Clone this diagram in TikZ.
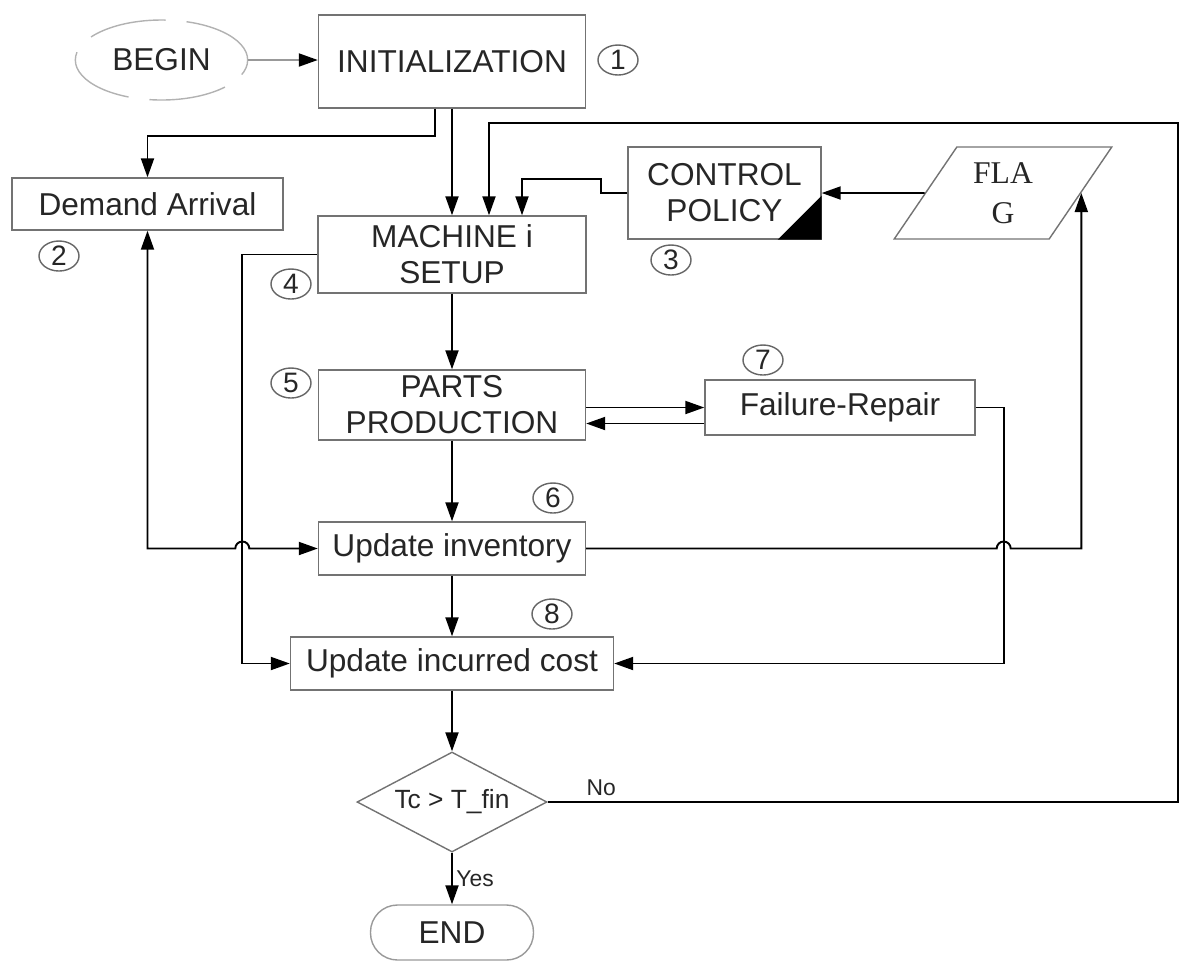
\documentclass[tikz,border=0pt]{standalone}
\usepackage{fontspec}
\setmainfont{Liberation Sans}
\newfontfamily\flagfont{Liberation Serif}
\usetikzlibrary{arrows.meta, calc, shapes.geometric}

\begin{document}
\begin{tikzpicture}[>={Triangle[length=1.9mm, width=1.3mm]}, line width=0.55pt, every node/.style={font=\fontsize{9}{10.2}\selectfont, text=black!85}, box/.style={draw=black!55, line width=0.4pt, align=center, inner sep=0pt}, num/.style={ellipse, draw=black!60, line width=0.4pt, minimum width=0.40cm, minimum height=0.30cm, inner sep=0pt, font=\fontsize{8}{9}\selectfont}]
  \useasboundingbox (0,0) rectangle (11.83,-9.66);
  \node[ellipse, draw=black!30, line width=0.4pt, dash pattern=on 22pt off 6pt, minimum width=1.63cm, minimum height=0.80cm] (start) at (1.615,-0.60) {BEGIN};
  \node[box, minimum width=2.67cm, minimum height=0.93cm] (init) at (4.52,-0.615) {INITIALIZATION};
  \node[box, minimum width=2.71cm, minimum height=0.52cm] (demand) at (1.475,-2.04) {Demand Arrival};
  \node[box, minimum width=2.68cm, minimum height=0.77cm] (setup) at (4.52,-2.545) {MACHINE i\\SETUP};
  \node[box, minimum width=1.93cm, minimum height=0.92cm] (control) at (7.245,-1.93) {CONTROL\\POLICY};
  \node[trapezium, trapezium left angle=56.5, trapezium right angle=123.5, trapezium stretches=true, draw=black!55, line width=0.4pt, minimum width=2.18cm, minimum height=0.92cm, inner sep=0pt, align=center, font=\flagfont\fontsize{9}{11.4}\selectfont] (flag) at (10.03,-1.93) {FLA\\G};
  \node[box, minimum width=2.67cm, minimum height=0.70cm] (pp) at (4.52,-4.05) {PARTS\\PRODUCTION};
  \node[box, minimum width=2.70cm, minimum height=0.55cm] (fail) at (8.40,-4.075) {Failure-Repair};
  \node[box, minimum width=2.67cm, minimum height=0.53cm] (inv) at (4.52,-5.485) {Update inventory};
  \node[box, minimum width=3.23cm, minimum height=0.53cm] (cost) at (4.52,-6.635) {Update incurred cost};
  \node[diamond, draw=black!55, line width=0.4pt, shape aspect=1.9, minimum width=1.90cm, minimum height=1.00cm, inner sep=0pt, font=\fontsize{7.5}{9}\selectfont] (test) at (4.52,-8.02) {Tc > T\_fin};
  \node[draw=black!40, line width=0.4pt, rounded corners=0.27cm, minimum width=1.63cm, minimum height=0.55cm] (finish) at (4.52,-9.325) {END};
  \node[num] (n1) at (6.18,-0.60) {1};
  \node[num] (n2) at (0.59,-2.56) {2};
  \node[num] (n3) at (6.71,-2.60) {3};
  \node[num] (n4) at (2.91,-2.84) {4};
  \node[num] (n5) at (2.91,-3.83) {5};
  \node[num] (n6) at (5.53,-4.98) {6};
  \node[num] (n7) at (7.63,-3.60) {7};
  \node[num] (n8) at (5.52,-6.14) {8};
  \coordinate (busleft) at ($(setup.west)+(-0.75,0)$);
  \coordinate (busfail) at ($(fail.east)+(0.28,0)$);
  \coordinate (loopcorner) at (11.78,-1.23);
  \draw[draw=black!40, -{Triangle[length=1.9mm, width=1.3mm, black]}] (start.east) -- (start.east -| init.west);
  \draw[->] ($(init.south)+(-0.17,0)$) -- ++(0,-0.27) -| (demand.north);
  \draw[->] (init) -- (setup);
  \draw[->] (test.east) -| (loopcorner) -| ($(setup.north)+(0.37,0)$);
  \draw[->] (control.west) -- ++(-0.26,0) -- ++(0,0.14) -| ($(setup.north)+(0.70,0)$);
  \draw[->] (flag.west) -- (control.east);
  \fill[black] ($(control.south east)+(-0.44,0)$) -- (control.south east) -- ($(control.south east)+(0,0.44)$) -- cycle;
  \draw[->] (setup) -- (pp);
  \draw[->] (setup.west) -- (busleft) |- (cost.west);
  \draw[<->] (demand.south) |- ($(busleft |- inv.west)+(-0.07,0)$) arc[start angle=180, end angle=0, radius=0.07] -- (inv.west);
  \draw[->] (pp) -- (inv);
  \draw[->] (pp.east |- fail.west) -- (fail.west);
  \draw[->] ($(fail.west)+(0,-0.16)$) -- ($(pp.east |- fail.west)+(0,-0.16)$);
  \draw[->] (fail.east) -- (busfail) |- (cost.east);
  \draw[->] (inv.east) -- ($(busfail |- inv.east)+(-0.07,0)$) arc[start angle=180, end angle=0, radius=0.07] -| (flag.east);
  \draw[->] (inv) -- (cost);
  \draw[->] (cost) -- (test);
  \draw[->] (test) -- (finish) node[midway, right, inner sep=1pt, font=\fontsize{6.5}{8}\selectfont] (yes) {Yes};
  \node[anchor=south west, inner sep=0pt, font=\fontsize{6.5}{8}\selectfont] (no) at ($(test.east)+(0.38,0.05)$) {No};
\end{tikzpicture}
\end{document}
